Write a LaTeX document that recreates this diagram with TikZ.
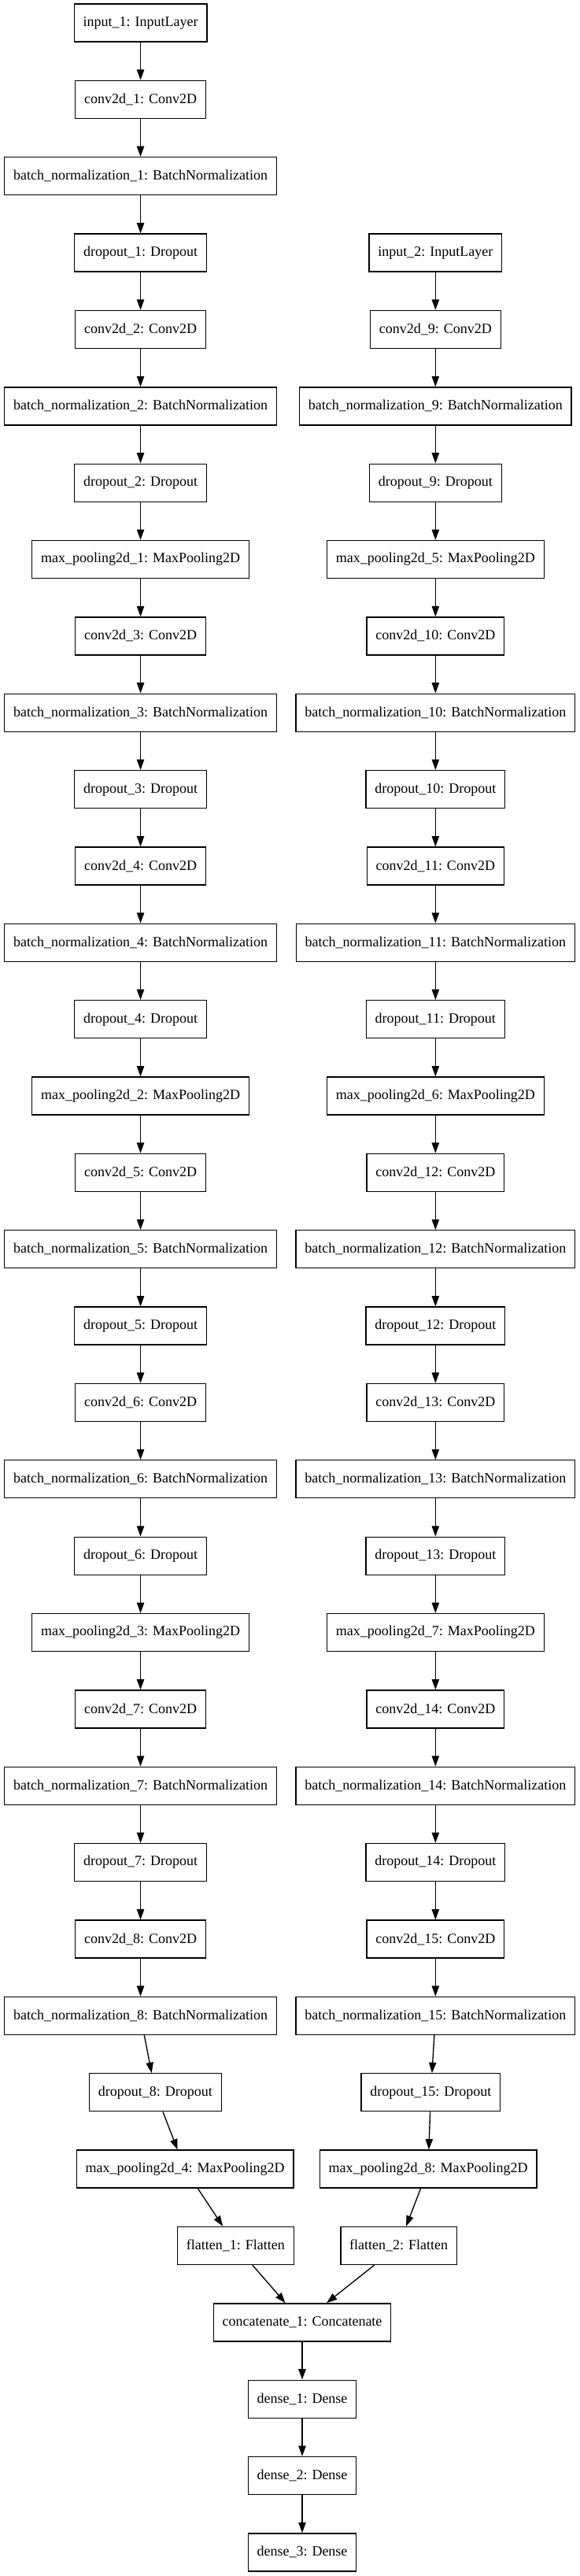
\documentclass[tikz,border=0pt]{standalone}
\usepackage{fontspec}
\setmainfont{Liberation Serif}
\usetikzlibrary{arrows.meta}
\begin{document}
\begin{tikzpicture}[x=1pt,y=-1pt,
    layer/.style={draw,rectangle,line width=1pt,minimum height=36pt,inner xsep=8.5pt,
      font=\fontsize{13.5}{16}\selectfont}]
      \useasboundingbox (0,0) rectangle (552,2454);
      \draw[every node/.append style={layer}]
        (133.9,21.8) node (in1){input\_1: InputLayer}
        (133.9,94.8) node (conv1){conv2d\_1: Conv2D}
        (133.9,167.8) node (bn1){batch\_normalization\_1: BatchNormalization}
        (133.9,240.8) node (drop1){dropout\_1: Dropout}
        (133.9,313.8) node (conv2){conv2d\_2: Conv2D}
        (133.9,386.9) node (bn2){batch\_normalization\_2: BatchNormalization}
        (133.9,459.9) node (drop2){dropout\_2: Dropout}
        (133.9,532.9) node (pool1){max\_pooling2d\_1: MaxPooling2D}
        (133.9,605.9) node (conv3){conv2d\_3: Conv2D}
        (133.9,678.9) node (bn3){batch\_normalization\_3: BatchNormalization}
        (133.9,752.0) node (drop3){dropout\_3: Dropout}
        (133.9,825.0) node (conv4){conv2d\_4: Conv2D}
        (133.9,898.0) node (bn4){batch\_normalization\_4: BatchNormalization}
        (133.9,971.0) node (drop4){dropout\_4: Dropout}
        (133.9,1044.0) node (pool2){max\_pooling2d\_2: MaxPooling2D}
        (133.9,1117.1) node (conv5){conv2d\_5: Conv2D}
        (133.9,1190.1) node (bn5){batch\_normalization\_5: BatchNormalization}
        (133.9,1263.1) node (drop5){dropout\_5: Dropout}
        (133.9,1336.1) node (conv6){conv2d\_6: Conv2D}
        (133.9,1409.1) node (bn6){batch\_normalization\_6: BatchNormalization}
        (133.9,1482.2) node (drop6){dropout\_6: Dropout}
        (133.9,1555.2) node (pool3){max\_pooling2d\_3: MaxPooling2D}
        (133.9,1628.2) node (conv7){conv2d\_7: Conv2D}
        (133.9,1701.2) node (bn7){batch\_normalization\_7: BatchNormalization}
        (133.9,1774.2) node (drop7){dropout\_7: Dropout}
        (133.9,1847.3) node (conv8){conv2d\_8: Conv2D}
        (133.9,1920.3) node (bn8){batch\_normalization\_8: BatchNormalization}
        (148.1,1993.3) node (drop8){dropout\_8: Dropout}
        (176.3,2066.3) node (pool4){max\_pooling2d\_4: MaxPooling2D}
        (224.6,2139.3) node (flat1){flatten\_1: Flatten}
        (415.0,240.8) node (in2){input\_2: InputLayer}
        (415.0,313.8) node (conv9){conv2d\_9: Conv2D}
        (415.0,386.9) node (bn9){batch\_normalization\_9: BatchNormalization}
        (415.0,459.9) node (drop9){dropout\_9: Dropout}
        (415.0,532.9) node (pool5){max\_pooling2d\_5: MaxPooling2D}
        (415.0,605.9) node (conv10){conv2d\_10: Conv2D}
        (415.0,678.9) node (bn10){batch\_normalization\_10: BatchNormalization}
        (415.0,752.0) node (drop10){dropout\_10: Dropout}
        (415.0,825.0) node (conv11){conv2d\_11: Conv2D}
        (415.0,898.0) node (bn11){batch\_normalization\_11: BatchNormalization}
        (415.0,971.0) node (drop11){dropout\_11: Dropout}
        (415.0,1044.0) node (pool6){max\_pooling2d\_6: MaxPooling2D}
        (415.0,1117.1) node (conv12){conv2d\_12: Conv2D}
        (415.0,1190.1) node (bn12){batch\_normalization\_12: BatchNormalization}
        (415.0,1263.1) node (drop12){dropout\_12: Dropout}
        (415.0,1336.1) node (conv13){conv2d\_13: Conv2D}
        (415.0,1409.1) node (bn13){batch\_normalization\_13: BatchNormalization}
        (415.0,1482.2) node (drop13){dropout\_13: Dropout}
        (415.0,1555.2) node (pool7){max\_pooling2d\_7: MaxPooling2D}
        (415.0,1628.2) node (conv14){conv2d\_14: Conv2D}
        (415.0,1701.2) node (bn14){batch\_normalization\_14: BatchNormalization}
        (415.0,1774.2) node (drop14){dropout\_14: Dropout}
        (415.0,1847.3) node (conv15){conv2d\_15: Conv2D}
        (415.0,1920.3) node (bn15){batch\_normalization\_15: BatchNormalization}
        (410.6,1993.3) node (drop15){dropout\_15: Dropout}
        (408.0,2066.3) node (pool8){max\_pooling2d\_8: MaxPooling2D}
        (380.0,2139.3) node (flat2){flatten\_2: Flatten}
        (288.0,2212.4) node (cat){concatenate\_1: Concatenate}
        (288.0,2285.4) node (dense1){dense\_1: Dense}
        (288.0,2358.4) node (dense2){dense\_2: Dense}
        (288.0,2431.4) node (dense3){dense\_3: Dense};
      \begin{scope}[-{Triangle[length=10pt,width=7pt]},line width=1pt]
        \draw (in1) to (conv1);
        \draw (conv1) to (bn1);
        \draw (bn1) to (drop1);
        \draw (drop1) to (conv2);
        \draw (conv2) to (bn2);
        \draw (bn2) to (drop2);
        \draw (drop2) to (pool1);
        \draw (pool1) to (conv3);
        \draw (conv3) to (bn3);
        \draw (bn3) to (drop3);
        \draw (drop3) to (conv4);
        \draw (conv4) to (bn4);
        \draw (bn4) to (drop4);
        \draw (drop4) to (pool2);
        \draw (pool2) to (conv5);
        \draw (conv5) to (bn5);
        \draw (bn5) to (drop5);
        \draw (drop5) to (conv6);
        \draw (conv6) to (bn6);
        \draw (bn6) to (drop6);
        \draw (drop6) to (pool3);
        \draw (pool3) to (conv7);
        \draw (conv7) to (bn7);
        \draw (bn7) to (drop7);
        \draw (drop7) to (conv8);
        \draw (conv8) to (bn8);
        \draw (bn8) to (drop8);
        \draw (drop8) to (pool4);
        \draw (pool4) to (flat1);
        \draw (in2) to (conv9);
        \draw (conv9) to (bn9);
        \draw (bn9) to (drop9);
        \draw (drop9) to (pool5);
        \draw (pool5) to (conv10);
        \draw (conv10) to (bn10);
        \draw (bn10) to (drop10);
        \draw (drop10) to (conv11);
        \draw (conv11) to (bn11);
        \draw (bn11) to (drop11);
        \draw (drop11) to (pool6);
        \draw (pool6) to (conv12);
        \draw (conv12) to (bn12);
        \draw (bn12) to (drop12);
        \draw (drop12) to (conv13);
        \draw (conv13) to (bn13);
        \draw (bn13) to (drop13);
        \draw (drop13) to (pool7);
        \draw (pool7) to (conv14);
        \draw (conv14) to (bn14);
        \draw (bn14) to (drop14);
        \draw (drop14) to (conv15);
        \draw (conv15) to (bn15);
        \draw (bn15) to (drop15);
        \draw (drop15) to (pool8);
        \draw (pool8) to (flat2);
        \draw (flat1) to (cat);
        \draw (flat2) to (cat);
        \draw (cat) to (dense1);
        \draw (dense1) to (dense2);
        \draw (dense2) to (dense3);
      \end{scope}
    \end{tikzpicture}
\end{document}
